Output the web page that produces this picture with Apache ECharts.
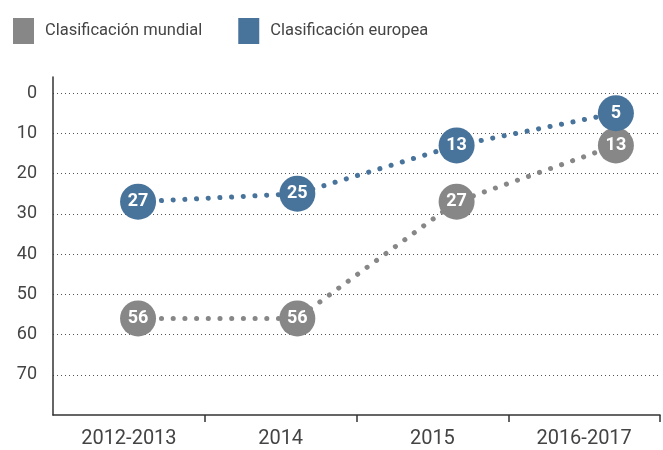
<!DOCTYPE html>
<html>
<head>
<meta charset="utf-8">
<script src="https://cdn.jsdelivr.net/npm/echarts@6/dist/echarts.min.js"></script>
<style>
  html, body { margin: 0; padding: 0; background: #fff; }
  #main { width: 663px; height: 450px; }
</style>
</head>
<body>
<div id="main"></div>
<script>
const periods = ['2012-2013', '2014', '2015', '2016-2017'];
const mundial = [56, 56, 27, 13];
const europea = [27, 25, 13, 5];
const yTicks = [0, 10, 20, 30, 40, 50, 60, 70];

const grey = '#878787';
const blue = '#48739a';
const textColor = '#444';
const font = 'Roboto, "Noto Sans", sans-serif';

function rankSeries(name, values, color) {
    return {
        name: name,
        type: 'line',
        xAxisIndex: 1,
        data: values.map((v, i) => [i, v]),
        symbol: 'circle',
        symbolSize: 36,
        itemStyle: { color: color },
        lineStyle: { color: color, width: 5, type: [0.1, 11.6], cap: 'round' },
        label: {
            show: true, position: 'inside', color: '#fff',
            fontWeight: 'bold', fontSize: 18, fontFamily: font
        },
        emphasis: { disabled: true },
        z: 3
    };
}

let chart = echarts.init(document.getElementById('main'));
chart.setOption({
    animation: false,
    textStyle: { fontFamily: font },
    legend: {
        left: 8, top: 13,
        itemWidth: 21, itemHeight: 26, itemGap: 36,
        icon: 'rect',
        textStyle: { color: textColor, fontSize: 16.5, padding: [0, 0, 0, 6] },
        data: [
            { name: 'Clasificación mundial', itemStyle: { color: grey } },
            { name: 'Clasificación europea', itemStyle: { color: blue } }
        ]
    },
    grid: { left: 53, right: 3, top: 77, bottom: 35, containLabel: false },
    xAxis: [{
        type: 'category',
        data: periods,
        boundaryGap: true,
        axisLine: { onZero: false, lineStyle: { color: '#333', width: 1.5 } },
        axisTick: {
            show: true, length: 7,
            interval: (i) => i > 0,
            lineStyle: { color: '#333', width: 1.5 }
        },
        axisLabel: { color: textColor, fontSize: 20, margin: 14 },
        splitLine: { show: false }
    }, {
        type: 'value',
        min: -0.534, max: 3.277,
        show: false
    }],
    yAxis: {
        type: 'value',
        inverse: true,
        min: -4, max: 80,
        axisLine: { show: true, onZero: false, lineStyle: { color: '#333', width: 1.5 } },
        axisTick: { show: false, customValues: yTicks },
        axisLabel: { color: textColor, fontSize: 18, margin: 16, customValues: yTicks },
        splitLine: { show: true, lineStyle: { color: '#555', width: 1, type: [1, 3] } }
    },
    series: [
        rankSeries('Clasificación mundial', mundial, grey),
        rankSeries('Clasificación europea', europea, blue)
    ]
});
</script>
</body>
</html>
